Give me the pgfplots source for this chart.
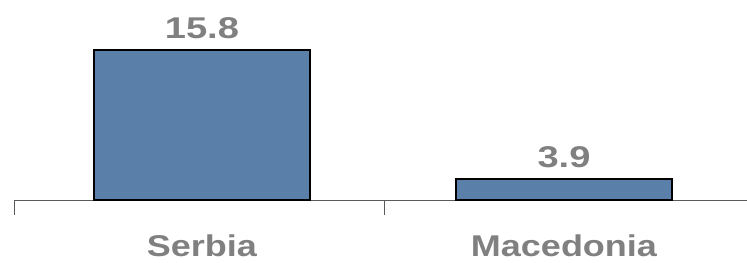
\documentclass[border=0pt]{standalone}
\usepackage{pgfplots}
\usepackage{graphicx}
\pgfplotsset{compat=1.18}
\usepackage{fontspec}
\setmainfont{Liberation Sans}
\definecolor{barblue}{RGB}{90,127,168}
\definecolor{txtgray}{RGB}{128,128,128}
\definecolor{axgray}{RGB}{90,90,90}
\begin{document}
\begin{tikzpicture}[x=1bp,y=1bp]
\useasboundingbox (0,0) rectangle (747,262);
\begin{axis}[
  at={(14bp,62bp)}, anchor=south west,
  scale only axis, width=733bp, height=200bp,
  xmin=-0.519, xmax=1.5055, ymin=1.96, ymax=20.41,
  axis x line*=bottom, axis y line=none,
  axis line style={draw=axgray, line width=1bp},
  xtick={0,1},
  xticklabels={\scalebox{1.2}[1]{Serbia},\scalebox{1.2}[1]{Macedonia}},
  major tick length=0pt,
  minor xtick={-0.519,0.505}, minor tick length=15bp, tick align=outside,
  minor tick style={draw=axgray, line width=1bp},
  ytick=\empty,
  xticklabel style={font=\fontsize{30bp}{36bp}\selectfont\bfseries, text=txtgray, anchor=base, yshift=-56.5bp, inner sep=0pt},
  ybar, bar width=216bp,
  nodes near coords={\scalebox{1.27}[1]{\pgfmathprintnumber[assume math mode=true,fixed,precision=1]{\pgfplotspointmeta}}},
  nodes near coords style={font=\fontsize{30bp}{36bp}\selectfont\bfseries, text=txtgray, anchor=base, yshift=11bp, inner sep=0pt},
]
\addplot[fill=barblue, draw=black, line width=1.3bp] coordinates {(0,15.8) (1,3.9)};
\end{axis}
\end{tikzpicture}
\end{document}
